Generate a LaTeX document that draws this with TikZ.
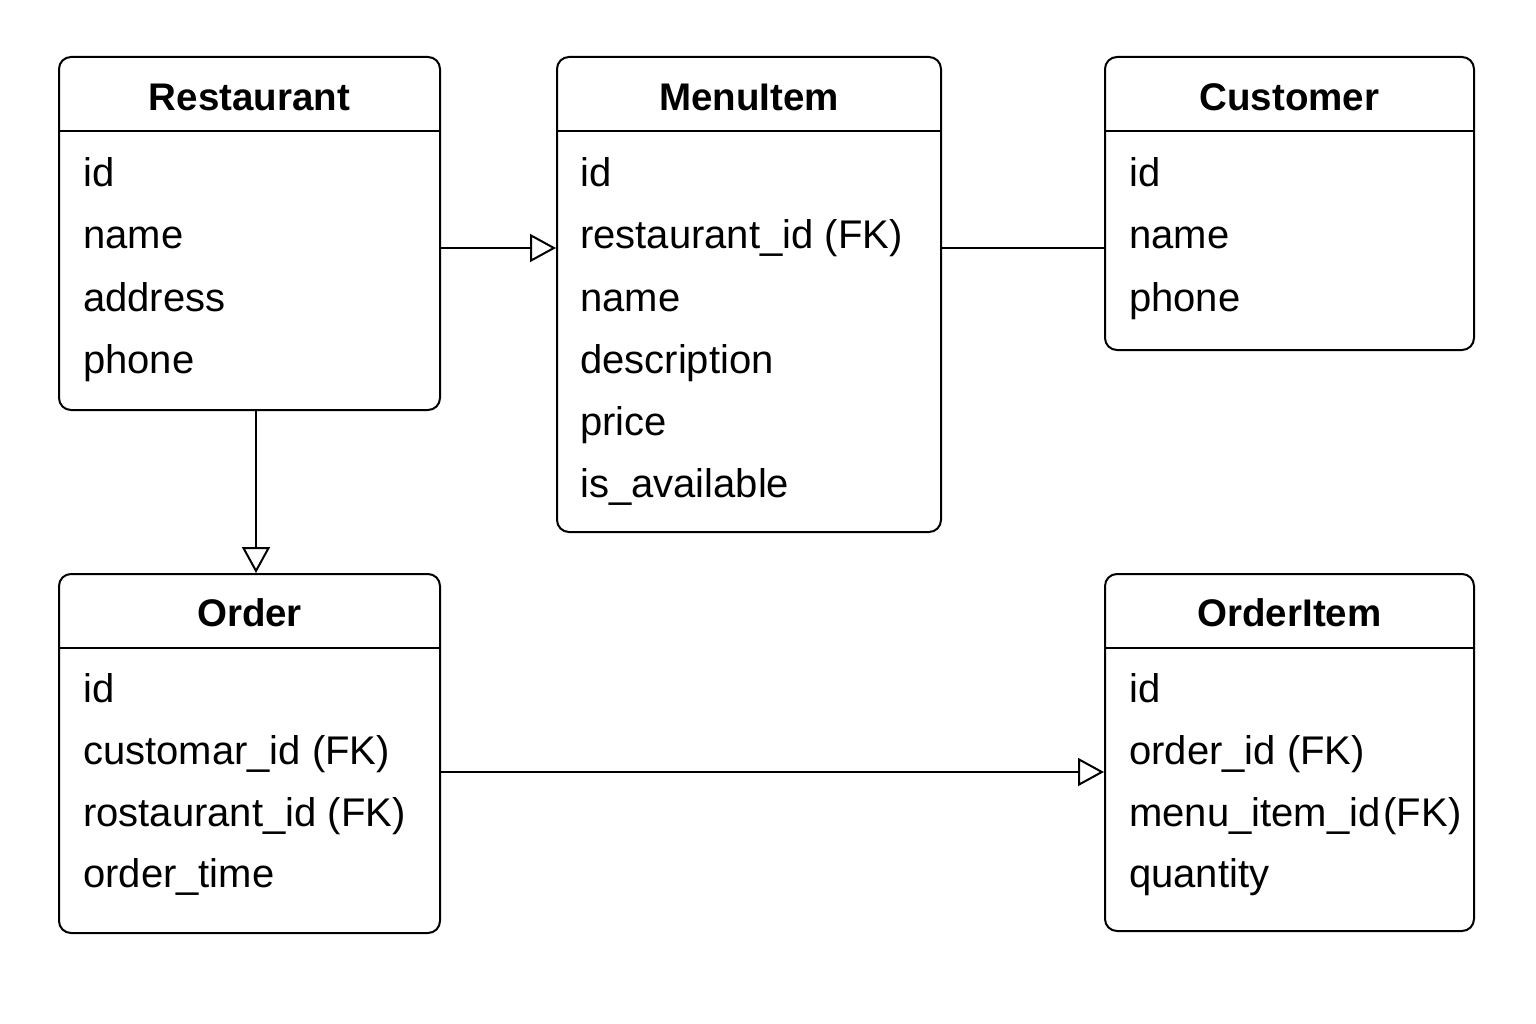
\documentclass[tikz,border=0pt]{standalone}
\usepackage{fontspec}
\setmainfont{Liberation Sans}
\usetikzlibrary{arrows.meta}
\begin{document}
\begin{tikzpicture}[x=1pt,y=-1pt,
  entity/.style={draw, line width=2pt, rounded corners=12pt, fill=white, inner sep=0pt},
  divider/.style={line width=2pt},
  etitle/.style={font=\fontsize{38.5}{44}\selectfont\bfseries, anchor=base, inner sep=0pt},
  attr/.style={font=\fontsize{40}{46}\selectfont, anchor=base west, inner sep=0pt},
  conn/.style={line width=2pt},
  inh/.style={conn, -{Triangle[open, length=26pt, width=28pt, line width=2pt]}}
]
\fill[white] (0,0) rectangle (1536,1024);
\useasboundingbox (0,0) rectangle (1536,1024);

% boxes
\node[entity, anchor=north west, minimum width=381pt, minimum height=353pt] (rest) at (58,56) {};
\node[entity, anchor=north west, minimum width=384pt, minimum height=475pt] (menu) at (556,56) {};
\node[entity, anchor=north west, minimum width=369pt, minimum height=293pt] (cust) at (1104,56) {};
\node[entity, anchor=north west, minimum width=381pt, minimum height=359pt] (order) at (58,573) {};
\node[entity, anchor=north west, minimum width=369pt, minimum height=357pt] (oitem) at (1104,573) {};

% divider levels
\coordinate (dtop) at (0,131);
\coordinate (dbot) at (0,648);
\coordinate (ttop) at (0,111);
\coordinate (tbot) at (0,626);

\foreach \b in {rest,menu,cust}{
  \draw[divider] (\b.west |- dtop) -- (\b.east |- dtop);
}
\foreach \b in {order,oitem}{
  \draw[divider] (\b.west |- dbot) -- (\b.east |- dbot);
}

% titles
\node[etitle] (restT) at (rest.north |- ttop) {Restaurant};
\node[etitle] (menuT) at (menu.north |- ttop) {MenuItem};
\node[etitle] (custT) at (cust.north |- ttop) {Customer};
\node[etitle] (orderT) at (order.north |- tbot) {Order};
\node[etitle] (oitemT) at (oitem.north |- tbot) {OrderItem};

% Restaurant attributes
\node[attr] (r1) at (83,187) {id};
\node[attr] (r2) at (83,249) {name};
\node[attr] (r3) at (83,311) {address};
\node[attr] (r4) at (83,373) {phone};

% MenuItem attributes
\node[attr] (m1) at (580,187) {id};
\node[attr] (m2) at (580,249) {restaurant\_id (FK)};
\node[attr] (m3) at (580,311) {name};
\node[attr] (m4) at (580,373) {description};
\node[attr] (m5) at (580,435) {price};
\node[attr] (m6) at (580,497) {is\_available};

% Customer attributes
\node[attr] (c1) at (1129,187) {id};
\node[attr] (c2) at (1129,249) {name};
\node[attr] (c3) at (1129,311) {phone};

% Order attributes
\node[attr] (o1) at (83,702) {id};
\node[attr] (o2) at (83,764) {customar\_id (FK)};
\node[attr] (o3) at (83,826) {rostaurant\_id (FK)};
\node[attr] (o4) at (83,887) {order\_time};

% OrderItem attributes
\node[attr] (i1) at (1129,702) {id};
\node[attr] (i2) at (1129,764) {order\_id (FK)};
\node[attr] (i3) at (1129,826) {menu\_item\_id\hspace{0.08em}(FK)};
\node[attr] (i4) at (1129,887) {quantity};

% connectors
\coordinate (yA) at (0,248);
\coordinate (xB) at (256,0);
\coordinate (yC) at (0,772);
\draw[inh] (rest.east |- yA) -- (menu.west |- yA);
\draw[conn] (menu.east |- yA) -- (cust.west |- yA);
\draw[inh] (rest.south -| xB) -- (order.north -| xB);
\draw[inh] (order.east |- yC) -- (oitem.west |- yC);
\end{tikzpicture}
\end{document}
